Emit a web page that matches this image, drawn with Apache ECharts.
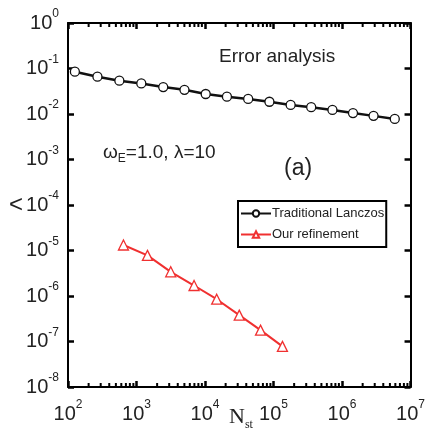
<!DOCTYPE html>
<html>
<head>
<meta charset="utf-8">
<script src="https://cdn.jsdelivr.net/npm/echarts@6/dist/echarts.min.js"></script>
<style>html,body{margin:0;padding:0;background:#fff;}#c{width:428px;height:444px;}</style>
</head>
<body>
<div id="c"></div>
<script>
// ---- data ----
const seriesNames = ['Traditional Lanczos', 'Our refinement'];
const lanczosX = [126, 269, 562, 1175, 2455, 5012, 10230, 20890, 42660, 87100, 177800, 354800, 724400, 1445000, 2884000, 5888000];
const lanczosY = [0.085, 0.066, 0.054, 0.047, 0.039, 0.034, 0.0275, 0.024, 0.0214, 0.0186, 0.0158, 0.0141, 0.0123, 0.0105, 0.0091, 0.0078];
const refineX = [645, 1445, 3160, 6918, 14800, 31600, 64600, 134900];
const refineY = [1.32e-5, 7.8e-6, 3.4e-6, 1.7e-6, 8.5e-7, 3.8e-7, 1.78e-7, 7.8e-8];
const xRange = [1e2, 1e7];
const yRange = [1e-8, 1];
const titleText = 'Error analysis';
const panelText = '(a)';

// minor tick positions (2..9 x 10^d) for the log x axis
const minorTicks = [];
for (let d = 2; d < 7; d++) for (let m = 2; m <= 9; m++) minorTicks.push([m * Math.pow(10, d), 1e-4]);

const chart = echarts.init(document.getElementById('c'));
const txt = '#222';
function powLabel(v) {
  const e = Math.round(Math.log10(v));
  return '{a|10}{b|' + e + '}';
}
const richLab = {
  a: { fontSize: 20, color: txt, fontFamily: 'Liberation Sans' },
  b: { fontSize: 12, color: txt, fontFamily: 'Liberation Sans', padding: [0, 0, 18, 0] }
};
const common = {
  type: 'log', logBase: 10,
  axisLine: { show: true, lineStyle: { color: '#000', width: 2 } },
  axisTick: { show: true, inside: true, length: 6, lineStyle: { color: '#000', width: 2.5 } },
  splitLine: { show: false },
  minorTick: { show: false }
};
chart.setOption({
  animation: false,
  backgroundColor: '#fff',
  grid: { left: 68, right: 13, top: 23, bottom: 57, show: false },
  legend: {
    data: seriesNames,
    orient: 'vertical',
    left: 238, top: 201,
    width: 148,
    itemWidth: 30, itemHeight: 8, itemGap: 8,
    padding: [6, 2, 6, 2],
    borderColor: '#000', borderWidth: 2,
    textStyle: { fontSize: 13, color: txt, fontFamily: 'Liberation Sans', padding: [0, 0, 0, -4] }
  },
  xAxis: [
    Object.assign({}, common, {
      position: 'bottom', min: xRange[0], max: xRange[1],
      axisLabel: { show: true, formatter: powLabel, rich: richLab, margin: 12, showMinLabel: true, showMaxLabel: true }
    }),
    Object.assign({}, common, {
      position: 'top', min: xRange[0], max: xRange[1],
      axisLabel: { show: false }
    })
  ],
  yAxis: [
    Object.assign({}, common, {
      position: 'left', min: yRange[0], max: yRange[1],
      axisLabel: { show: true, formatter: powLabel, rich: richLab, margin: 9, showMinLabel: true, showMaxLabel: true }
    }),
    Object.assign({}, common, {
      position: 'right', min: yRange[0], max: yRange[1],
      axisLabel: { show: false }
    })
  ],
  graphic: [
    { type: 'text', left: 219, top: 47, style: { text: titleText, fontSize: 19, fill: txt, fontFamily: 'Liberation Sans' } },
    { type: 'text', left: 103, top: 143, style: {
        text: '{w|ω}{s|E}{w|=1.0, λ=10}',
        rich: { w: { fontSize: 19, fill: txt, fontFamily: 'Liberation Sans' }, s: { fontSize: 12, fill: txt, fontFamily: 'Liberation Sans', padding: [12, 0, 0, 0] } }
      } },
    { type: 'text', left: 284, top: 157, style: { text: panelText, fontSize: 23, fill: txt, fontFamily: 'Liberation Sans' } },
    { type: 'text', left: 9, top: 193, style: { text: '<', fontSize: 24, fill: txt, fontFamily: 'Liberation Sans' } },
    { type: 'text', left: 229, top: 406, style: {
        text: '{n|N}{s|st}',
        rich: { n: { fontSize: 22, fill: txt, fontFamily: 'Liberation Serif' }, s: { fontSize: 12, fill: txt, fontFamily: 'Liberation Serif', padding: [16, 0, 0, 0] } }
      } }
  ],
  series: [
    {
      name: seriesNames[0], type: 'line',
      data: lanczosX.map((x, i) => [x, lanczosY[i]]),
      symbol: 'circle', symbolSize: 9,
      lineStyle: { color: '#111', width: 2.5 },
      itemStyle: { color: '#fff', borderColor: '#111', borderWidth: 1.3 },
      color: '#111'
    },
    {
      name: seriesNames[1], type: 'line',
      data: refineX.map((x, i) => [x, refineY[i]]),
      symbol: 'triangle', symbolSize: 10,
      lineStyle: { color: '#f03030', width: 2 },
      itemStyle: { color: '#fff', borderColor: '#f03030', borderWidth: 1.3 },
      color: '#f03030'
    },
    {
      type: 'custom', silent: true, clip: false, z: 5,
      xAxisIndex: 0, yAxisIndex: 0,
      data: minorTicks,
      renderItem: function (params, api) {
        const x = api.coord([api.value(0), api.value(1)])[0];
        const cs = params.coordSys;
        const st = { stroke: '#000', lineWidth: 2 };
        return { type: 'group', children: [
          { type: 'line', shape: { x1: x, y1: cs.y + cs.height, x2: x, y2: cs.y + cs.height - 4 }, style: st },
          { type: 'line', shape: { x1: x, y1: cs.y, x2: x, y2: cs.y + 4 }, style: st }
        ] };
      }
    }
  ]
});
</script>
</body>
</html>
